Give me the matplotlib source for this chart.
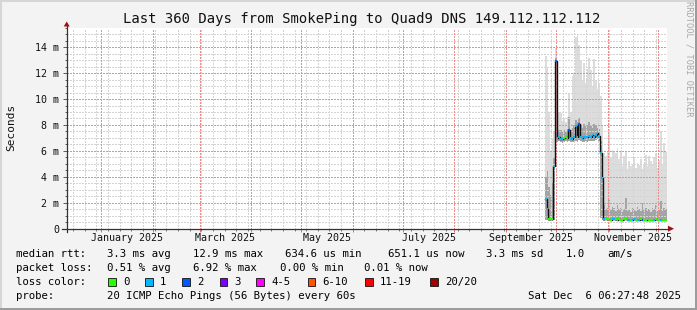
import numpy as np
import matplotlib
matplotlib.use("Agg")
import matplotlib.pyplot as plt
import matplotlib.dates as mdates
from matplotlib.ticker import MultipleLocator, FuncFormatter, NullFormatter
from matplotlib.patches import Rectangle, Polygon
from matplotlib.lines import Line2D
from datetime import datetime, timedelta

# ---- data (one sample per day, from 2025-09-24 to 2025-12-05), values in ms ----
median = [2.3, 1.5, 0.75, 0.72, 0.74, 4.8, 12.9,
          7.0, 7.05, 6.95, 6.95, 7.0, 7.05, 7.0, 7.6, 7.0, 6.95, 7.05, 7.9, 7.05, 8.1,
          7.05, 7.0, 7.05, 7.1, 7.05, 7.15, 7.05, 7.2, 7.1, 7.25, 7.35, 7.15,
          5.8, 3.9,
          0.78, 0.75, 0.72, 0.74, 0.70, 0.72, 0.75, 0.71, 0.69, 0.72,
          0.70, 0.68, 0.71, 0.73, 0.70, 0.66, 0.68, 0.70, 0.72, 0.69,
          0.67, 0.70, 0.71, 0.68, 0.66, 0.69, 0.72, 0.70, 0.68, 0.67,
          0.69, 0.71, 0.68, 0.66, 0.67, 0.70, 0.68, 0.65]

loss = [1, 1, 0, 0, 0, 1, 2,
        1, 1, 1, 1, 0, 0, 1, 2, 1, 1, 1, 1, 1, 2,
        1, 1, 1, 1, 1, 1, 1, 1, 1, 1, 1, 1,
        1, 1,
        1, 0, 0, 0, 0, 1, 1, 0, 0, 0,
        0, 0, 0, 0, 1, 1, 0, 1, 1, 0,
        1, 1, 0, 2, 0, 0, 0, 0, 0, 0,
        1, 0, 0, 0, 1, 0, 0, 0]

smoke_hi = [13.3, 12.4, 9.0, 6.0, 7.0, 7.5, 13.9,
            9.1, 9.0, 8.9, 8.3, 8.5, 8.2, 8.6, 10.5, 9.0, 11.8, 12.0, 14.8, 15.0, 14.2,
            13.0, 11.5, 12.8, 11.2, 12.3, 13.2, 12.2, 11.0, 13.1, 11.5, 10.8, 11.2,
            10.2, 8.0,
            5.8, 5.6, 5.9, 7.4, 5.5, 6.1, 6.0, 5.8, 6.2, 5.4,
            5.9, 4.8, 5.6, 6.0, 4.6, 5.2, 4.8, 5.0, 5.5, 4.7,
            5.1, 4.9, 5.4, 4.6, 5.0, 5.7, 4.8, 5.6, 5.2, 4.9,
            5.5, 5.8, 4.7, 5.3, 7.5, 5.0, 6.6, 5.9]

smoke_mid = [4.0, 4.5, 3.2, 2.6, 3.5, 5.5, 13.2,
             7.7, 7.6, 7.6, 7.5, 7.6, 7.5, 7.7, 8.6, 7.6, 7.8, 8.0, 8.4, 8.2, 8.5,
             8.0, 7.8, 8.1, 7.9, 8.0, 8.2, 7.9, 7.8, 8.1, 7.9, 7.8, 7.7,
             6.8, 5.0,
             1.8, 1.5, 1.6, 2.2, 1.5, 1.7, 1.6, 1.4, 1.8, 1.5,
             1.6, 1.3, 1.5, 2.4, 1.4, 1.5, 1.3, 1.6, 1.5, 1.4,
             1.7, 1.5, 1.4, 2.0, 1.5, 1.6, 1.4, 1.5, 1.3, 1.6,
             1.5, 1.8, 1.4, 1.5, 2.1, 1.4, 1.6, 1.5]

smoke_lo = [0.7, 0.65, 0.6, 0.6, 0.6, 0.65, 6.8,
            6.7, 6.75, 6.65, 6.6, 6.7, 6.75, 6.7, 6.8, 6.7, 6.65, 6.7, 6.8, 6.7, 6.85,
            6.75, 6.7, 6.7, 6.75, 6.7, 6.8, 6.75, 6.8, 6.75, 6.85, 6.9, 6.8,
            0.8, 0.7,
            0.62, 0.64, 0.63, 0.64, 0.62, 0.63, 0.65, 0.63, 0.62, 0.64,
            0.63, 0.62, 0.63, 0.64, 0.63, 0.62, 0.63, 0.63, 0.64, 0.62,
            0.63, 0.64, 0.63, 0.62, 0.63, 0.63, 0.64, 0.63, 0.62, 0.63,
            0.63, 0.64, 0.62, 0.63, 0.63, 0.64, 0.63, 0.63]

loss_labels = ["0", "1", "2", "3", "4-5", "6-10", "11-19", "20/20"]
loss_colors = ["#26ff00", "#00b8ff", "#0059ff", "#7e00ff",
               "#ff00ff", "#ff5500", "#ff0000", "#a10000"]

month_labels = ["January 2025", "March 2025", "May 2025",
                "July 2025", "September 2025", "November 2025"]
label_months = [(2025, 1), (2025, 3), (2025, 5), (2025, 7), (2025, 9), (2025, 11)]

stats_rtt = ["3.3 ms avg", "12.9 ms max", "634.6 us min", "651.1 us now",
             "3.3 ms sd", "1.0", "am/s"]
stats_loss = ["0.51 % avg", "6.92 % max", "0.00 % min", "0.01 % now"]

title = "Last 360 Days from SmokePing to Quad9 DNS 149.112.112.112"
probe = "20 ICMP Echo Pings (56 Bytes) every 60s"
stamp = "Sat Dec  6 06:27:48 2025"

t_start = datetime(2024, 12, 11, 6, 27, 48)
t_end = datetime(2025, 12, 6, 6, 27, 48)
first_sample = datetime(2025, 9, 24, 6, 27, 48)

# ---- figure ----
W, H = 697, 310
plt.rcParams["font.family"] = "DejaVu Sans Mono"

fig = plt.figure(figsize=(W / 100, H / 100), dpi=100, facecolor="#f3f3f3")


def fx(x):
    return x / W


def fy(y):
    return 1 - y / H


# frame borders
fig.add_artist(Rectangle((0, fy(2)), 1, 2 / H, transform=fig.transFigure, color="#d6d6d6", lw=0))
fig.add_artist(Rectangle((0, 0), 2 / W, 1, transform=fig.transFigure, color="#d6d6d6", lw=0))
fig.add_artist(Rectangle((0, 0), 1, 2.5 / H, transform=fig.transFigure, color="#9c9c9c", lw=0))
fig.add_artist(Rectangle((fx(W - 2.5), 0), 2.5 / W, 1, transform=fig.transFigure, color="#9c9c9c", lw=0))

ax = fig.add_axes([fx(66.7), fy(228.7), fx(666.5) - fx(66.7), fy(27.7) - fy(228.7)])
ax.set_facecolor("white")
for s in ax.spines.values():
    s.set_visible(False)

t = [first_sample + timedelta(days=i) for i in range(len(median))] + [t_end]


def stepped(v):
    return np.append(np.array(v, dtype=float), v[-1])


ax.fill_between(t, stepped(smoke_lo), stepped(smoke_hi), step="post", color="#dcdcdc", lw=0, zorder=1)
ax.fill_between(t, stepped(smoke_lo), stepped(smoke_mid), step="post", color="#a4a4a4", lw=0, zorder=1)
ax.step(t, stepped(median), where="post", color="#111111", lw=1.0, zorder=4)
for i, m in enumerate(median):
    ax.hlines(m, t[i], t[i + 1], color=loss_colors[loss[i]], lw=1.5, zorder=5)

ax.set_xlim(t_start, t_end)
ax.set_ylim(0, 15.5)

# grid, drawn by hand so the month lines stay on top of the week lines
weeks = mdates.WeekdayLocator(byweekday=mdates.SU)
months = mdates.MonthLocator()
weeks.set_axis(ax.xaxis)
months.set_axis(ax.xaxis)
dot = dict(lw=0.6, linestyle=(0, (2.4, 2.4)), snap=True, antialiased=False)
for v in weeks():
    ax.axvline(v, color="#d4d4d4", zorder=2, **dot)
for v in np.arange(0.5, 15.5, 0.5):
    if v % 2:
        ax.axhline(v, color="#d4d4d4", zorder=2, **dot)
for v in months():
    ax.axvline(v, color="#f28c8c", zorder=3, **dot)
for v in np.arange(2, 15.5, 2):
    ax.axhline(v, color="#f28c8c", zorder=3, **dot)

ax.xaxis.set_major_locator(months)
ax.xaxis.set_minor_locator(weeks)
ax.xaxis.set_major_formatter(NullFormatter())
ax.yaxis.set_major_locator(MultipleLocator(2))
ax.yaxis.set_minor_locator(MultipleLocator(0.5))
ax.yaxis.set_major_formatter(FuncFormatter(lambda v, p: "0" if v == 0 else "%d m" % v))

ax.tick_params(axis="y", which="major", length=3, width=0.6, color="#444444",
               labelsize=7.2, pad=2.5, labelcolor="#111111")
ax.tick_params(axis="y", which="minor", length=1.5, width=0.6, color="#444444")
ax.tick_params(axis="x", which="major", length=2.5, width=0.6, color="#d06060")
ax.tick_params(axis="x", which="minor", length=1.5, width=0.6, color="#666666")

# month labels centred on their month
for lab, (yr, mo) in zip(month_labels, label_months):
    a = datetime(yr, mo, 1)
    b = datetime(yr + (mo == 12), mo % 12 + 1, 1)
    mid = a + (b - a) / 2
    ax.text(mdates.date2num(mid), -9 / 201, lab, transform=ax.get_xaxis_transform(),
            ha="center", va="center", fontsize=7.2, color="#111111")

fig.text(fx(11), fy(127), "Seconds", rotation=90, ha="center", va="center", fontsize=8, color="#111111")

# axis lines with arrows
fig.add_artist(Line2D([fx(62), fx(668)], [fy(228.7), fy(228.7)], transform=fig.transFigure,
                      color="#333333", lw=0.9))
fig.add_artist(Line2D([fx(66.7), fx(66.7)], [fy(232), fy(26)], transform=fig.transFigure,
                      color="#333333", lw=0.9))
fig.add_artist(Polygon([(fx(668), fy(225.7)), (fx(674), fy(228.7)), (fx(668), fy(231.7))],
                       closed=True, transform=fig.transFigure, color="#a01010", lw=0))
fig.add_artist(Polygon([(fx(63.7), fy(26.5)), (fx(66.7), fy(21.5)), (fx(69.7), fy(26.5))],
                       closed=True, transform=fig.transFigure, color="#a01010", lw=0))

# title and watermark
fig.text(fx(361.5), fy(19.3), title, ha="center", va="center", fontsize=10, color="#111111")
fig.text(fx(688.5), fy(59), "RRDTOOL / TOBI OETIKER", rotation=270, ha="center", va="center",
         fontsize=6.2, color="#a8a8a8")

# legend block
LS = 7.7
fig.text(fx(16.4), fy(254.3), "median rtt:", fontsize=LS, va="center")
for s, x in zip(stats_rtt, [107.1, 192.9, 284.9, 387.6, 485.8, 565.3, 607.1]):
    fig.text(fx(x), fy(254.3), s, fontsize=LS, va="center")

fig.text(fx(16.4), fy(268.3), "packet loss:", fontsize=LS, va="center")
for s, x in zip(stats_loss, [107.1, 192.9, 279.6, 364.4]):
    fig.text(fx(x), fy(268.3), s, fontsize=LS, va="center")

fig.text(fx(16.4), fy(282.3), "loss color:", fontsize=LS, va="center")
box_x = [108.4, 145.3, 182.2, 219.6, 256.4, 307.6, 365.3, 430.2]
lab_x = [123.6, 160.0, 196.9, 233.8, 271.1, 322.2, 380.0, 444.9]
for lab, col, bx, lx in zip(loss_labels, loss_colors, box_x, lab_x):
    fig.add_artist(Rectangle((fx(bx), fy(285.5)), 7.5 / W, 7.5 / H, transform=fig.transFigure,
                             facecolor=col, edgecolor="#111111", lw=0.6))
    fig.text(fx(lx), fy(282.3), lab, fontsize=LS, va="center")

fig.text(fx(16.4), fy(296.3), "probe:", fontsize=LS, va="center")
fig.text(fx(107.1), fy(296.3), probe, fontsize=LS, va="center")
fig.text(fx(680.5), fy(296.3), stamp, fontsize=LS, va="center", ha="right")

fig.savefig("out.png", dpi=100, facecolor=fig.get_facecolor())
